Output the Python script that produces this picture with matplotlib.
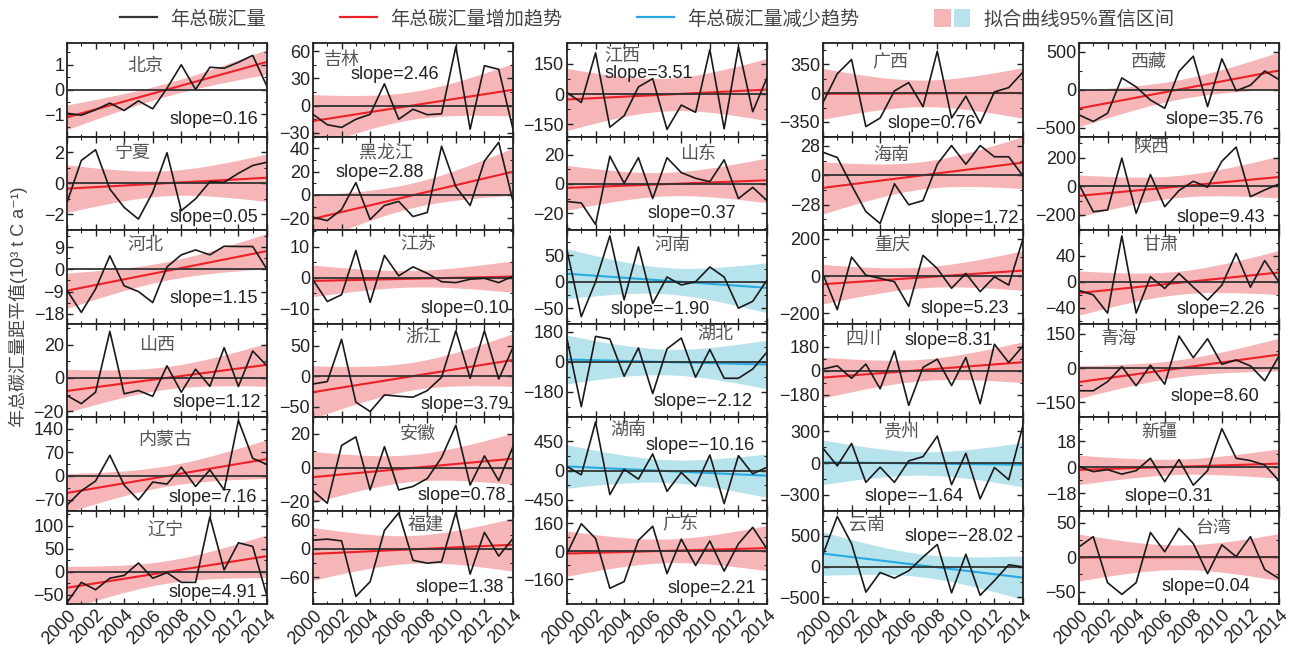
import numpy as np
import matplotlib
matplotlib.use('Agg')
import matplotlib.pyplot as plt
from matplotlib.lines import Line2D
from matplotlib.patches import Patch
from matplotlib.legend_handler import HandlerTuple
from matplotlib.ticker import MultipleLocator, AutoMinorLocator

plt.rcParams['font.family'] = ['Liberation Sans', 'Noto Sans CJK SC', 'DejaVu Sans']

years = np.arange(2000, 2015)

# anomaly of annual carbon sink, 10^3 t C a-1
beijing = [-0.96, -1.04, -0.82, -0.55, -0.85, -0.46, -0.78, 0.05, 1.0, 0.0, 0.9, 0.86, 1.1, 1.38, 0.12]
jilin = [-9.6, -21, -24, -15, -9.6, 24, -15, -4, -10, -9, 65, -26, 44, 40, -26]
jiangxi = [8, -41, 205, -164, -107, 36, 77, -175, -54, -90, 221, -172, 234, -87, 82]
guangxi = [-113, 237, 410, -406, -302, 28, 129, -165, 511, -302, -36, -366, 16, 68, 257]
xizang = [-330, -417, -309, 157, 39, -135, -243, 243, 443, -222, 409, -13, 61, 248, 135]
ningxia = [-1.23, 1.46, 2.15, -0.37, -1.55, -2.3, -0.58, 1.96, -1.76, -1.0, 0.1, 0.06, 0.64, 1.14, 1.35]
heilongjiang = [-19, -22, -12.5, 10.5, -21, -9, -5.5, -18.5, -15, 41.7, 7, -9, 29, 45, -5.5]
shandong = [-12, -13, -27.7, 19, 0.5, 18, -10, 18, 7.8, 3.9, 1.6, 16.5, -10, -2.3, -11.4]
hainan = [22, 17, -9.4, -34.5, -45.8, -8, -28, -24, 10.6, 28.4, 10.6, 28.4, 17.7, 17.7, -0.6]
shaanxi = [12, -178, -166, 197, -189, 82, -143, -30, 35, -7, 175, 274, -73, -26, 16]
hebei = [-8.5, -17.5, -8, 5.5, -6.7, -9, -13.5, 1, 5.9, 7.9, 5.9, 9.4, 9.3, 9.3, 0]
jiangsu = [-0.7, -7.7, -5.5, 8.8, -8, 7.2, 0.6, 3.5, 1.4, -1.3, -1.6, -0.5, -0.2, -1.6, 0.5]
henan = [60, -66, 0, 87, -34, 66, -41, 9, -6, 0, 28, 9, -50, -37, 3]
chongqing = [10, -180, 102, 5, -12, -30, -162, 111, 40, -65, 14, -83, -4, -48, 199]
gansu = [-13, -20, -48, 71, -48, 8, -10, 13, -8, -28, -5, 44, -8, 33, 0]
shanxi = [-10.5, -15.4, -8.5, 28, -9.5, -7.5, -11, 7.3, -8.5, 5.3, -5, 18.2, -5.1, 16.2, 7.3]
zhejiang = [-12.6, -8.7, 61, -42.6, -58, -30.6, -32.8, -34.4, -23.5, -1.6, 75, -3.3, 75, -4.4, 47.5]
hubei = [137, -268, 153, 137, -86, 84, -190, 78, 143, -92, 74, -98, -98, -43, 59]
sichuan = [12, 37, -57, 50, -137, 150, -262, 25, 87, -112, 100, -250, 200, 62, 187]
qinghai = [-99, -99, -59, 7, -77, 13, -70, 141, 46, 129, 17, 36, 10, -55, 54]
neimenggu = [-86, -44, -15, 61, -27, -71, -18, -24, 26, -31, 18, -41, 164, 52, 34]
anhui = [-13.7, -21.2, 13.1, 18.2, -13.3, 12.4, -13.3, -11.2, -6.5, 5.9, 25.1, -10.4, 6.9, -7.8, 12.4]
hunan = [61, -66, 746, -370, 20, -132, 254, -320, -30, -244, 239, -508, 228, -51, 51]
guizhou = [141, -25, 187, -181, -37, -181, 22, 62, 256, -203, 94, -337, -40, -156, 359]
xinjiang = [0.5, -3, -1.6, -4.7, -2.3, 6.3, -10, 5.4, -12.4, -2.3, 26.9, 6.3, 4.7, 1.6, -9.3]
liaoning = [-67, -23, -39, -14, -8, 19, -14, -2, -23, -23, 119, 4, 63, 55, -53]
fujian = [18.5, 20.7, 17, -100, -69, 39, 76, -24, -30, -27, 78, -53, 35, -15, 22]
guangdong = [-12, 158, 74, -210, -172, 64, 144, -126, 70, -80, 60, -112, 44, 138, 14]
yunnan = [200, 817, 371, -417, -97, -189, -69, 154, 360, -429, 200, -469, -229, 29, -6]
taiwan = [15, 30, -37, -54, -37, 36, 8, 42, 20, -24, 18, 1, 30, -18, -31]

names = [['北京', '吉林', '江西', '广西', '西藏'],
         ['宁夏', '黑龙江', '山东', '海南', '陕西'],
         ['河北', '江苏', '河南', '重庆', '甘肃'],
         ['山西', '浙江', '湖北', '四川', '青海'],
         ['内蒙古', '安徽', '湖南', '贵州', '新疆'],
         ['辽宁', '福建', '广东', '云南', '台湾']]
series = [[beijing, jilin, jiangxi, guangxi, xizang],
          [ningxia, heilongjiang, shandong, hainan, shaanxi],
          [hebei, jiangsu, henan, chongqing, gansu],
          [shanxi, zhejiang, hubei, sichuan, qinghai],
          [neimenggu, anhui, hunan, guizhou, xinjiang],
          [liaoning, fujian, guangdong, yunnan, taiwan]]
slopes = [[0.16, 2.46, 3.51, 0.76, 35.76],
          [0.05, 2.88, 0.37, 1.72, 9.43],
          [1.15, 0.10, -1.90, 5.23, 2.26],
          [1.12, 3.79, -2.12, 8.31, 8.60],
          [7.16, 0.78, -10.16, -1.64, 0.31],
          [4.91, 1.38, 2.21, -28.02, 0.04]]
yticks = [[[-1, 0, 1], [-30, 0, 30, 60], [-150, 0, 150], [-350, 0, 350], [-500, 0, 500]],
          [[-2, 0, 2], [-20, 0, 20, 40], [-20, 0, 20], [-28, 0, 28], [-200, 0, 200]],
          [[-18, -9, 0, 9], [-10, 0, 10], [-50, 0, 50], [-200, 0, 200], [-40, 0, 40]],
          [[-20, 0, 20], [-50, 0, 50], [-180, 0, 180], [-180, 0, 180], [-150, 0, 150]],
          [[-70, 0, 70, 140], [-20, 0, 20], [-450, 0, 450], [-300, 0, 300], [-18, 0, 18]],
          [[-50, 0, 50, 100], [-60, 0, 60], [-160, 0, 160], [-500, 0, 500], [-50, 0, 50]]]

# layout / style settings
ylims = [[(-1.9, 1.88), (-34, 69), (-210, 254), (-527, 611), (-615, 617)],
         [(-3, 3), (-30, 50), (-31.5, 32.5), (-52, 37), (-306, 348)],
         [(-22, 16), (-14.8, 15.4), (-79, 98), (-254, 247), (-64, 80)],
         [(-23.4, 32.7), (-67, 87), (-330, 230), (-350, 357), (-214, 196)],
         [(-102, 174), (-25.5, 30), (-614, 822), (-447, 437), (-30, 35)],
         [(-70, 133), (-116, 81), (-300, 234), (-611, 914), (-68, 68)]]
name_xy = [[(2005.5, 0.93), (2002.0, 50), (2003.9, 184), (2004.7, 370), (2004.9, 365)],
           [(2004.6, 1.9), (2005.1, 36), (2009.2, 20), (2004.8, 18.7), (2005.1, 262)],
           [(2005.5, 9.5), (2007.4, 10.4), (2007.4, 69), (2004.8, 164), (2005.7, 56)],
           [(2006.3, 19.6), (2007.7, 64), (2010.4, 163), (2002.8, 237), (2002.8, 126)],
           [(2006.9, 104), (2007.3, 20), (2004.3, 619), (2005.5, 297), (2005.6, 24.5)],
           [(2006.9, 87), (2007.9, 50), (2007.9, 154), (2003.1, 686), (2009.4, 42)]]
slope_xy = [[(2010.25, -1.23), (2005.7, 34.8), (2005.7, 102), (2007.6, -374), (2009.5, -396)],
            [(2010.25, -2.2), (2004.7, 19.4), (2008.7, -20.5), (2010.6, -41), (2009.9, -217)],
            [(2010.3, -12), (2010.6, -9.8), (2006.5, -53), (2009.9, -176), (2009.9, -42)],
            [(2010.5, -14.5), (2010.6, -47), (2009.5, -239), (2008.8, 232), (2009.5, -123)],
            [(2010.2, -65), (2010.4, -16.7), (2009.3, 391), (2006.4, -319), (2006.3, -20)],
            [(2010.2, -44), (2010.3, -81), (2010.1, -212), (2009.5, 486), (2008.9, -43)]]

W, H = 1295, 649
lefts = [67, 313, 567, 823, 1079]
ax_w = 200
top = 43
ax_h = 93.5

red = '#ec2027'
blue = '#27aae1'
pink = '#f6b5b7'
lblue = '#b7e3ec'
n = len(years)
xbar = years.mean()
sxx = ((years - xbar) ** 2).sum()

fig = plt.figure(figsize=(W / 100, H / 100), dpi=100)

for r in range(6):
    for c in range(5):
        y = np.array(series[r][c], dtype=float)
        k = slopes[r][c]
        ax = fig.add_axes([lefts[c] / W, 1 - (top + (r + 1) * ax_h) / H, ax_w / W, ax_h / H])
        xx = np.linspace(2000, 2014, 200)
        ybar = y.mean()
        resid = y - (k * (years - xbar) + ybar)
        s = np.sqrt((resid ** 2).sum() / (n - 2))
        trend = k * (xx - xbar) + ybar
        ci = 2.16 * s * np.sqrt(1 / n + (xx - xbar) ** 2 / sxx)
        lc, bc = (red, pink) if k > 0 else (blue, lblue)
        ax.fill_between(xx, trend - ci, trend + ci, color=bc, lw=0, zorder=1)
        ax.plot(xx, trend, color=lc, lw=1.5, zorder=2)
        ax.axhline(0, color='#333333', lw=1.3, zorder=3)
        ax.plot(years, y, color='#1a1a1a', lw=1.2, zorder=4)

        ax.set_xlim(2000, 2014)
        ax.set_ylim(*ylims[r][c])
        ax.set_yticks(yticks[r][c])
        ax.xaxis.set_major_locator(MultipleLocator(2))
        ax.xaxis.set_minor_locator(MultipleLocator(1))
        ax.yaxis.set_minor_locator(AutoMinorLocator(2))
        ax.tick_params(which='both', direction='in', top=True, right=True,
                       labelsize=13, colors='#222222', pad=2)
        ax.tick_params(which='major', length=4, width=1)
        ax.tick_params(which='minor', length=2.5, width=0.8)
        for sp in ax.spines.values():
            sp.set_linewidth(1.3)
            sp.set_color('#222222')
        if r == 5:
            for lab in ax.get_xticklabels():
                lab.set_rotation(45)
                lab.set_ha('right')
                lab.set_va('top')
                lab.set_rotation_mode('anchor')
                lab.set_fontsize(13)
        else:
            ax.set_xticklabels([])

        nx, ny = name_xy[r][c]
        ax.text(nx, ny, names[r][c], ha='center', va='center', fontsize=13,
                color='#555555', zorder=5)
        sx, sy = slope_xy[r][c]
        ax.text(sx, sy, f'slope={k:.2f}'.replace('-', '\u2212'), ha='center', va='center',
                fontsize=13, color='#222222', zorder=5)

fig.text(18 / W, 1 - 307 / H, '年总碳汇量距平值(10³ t C a⁻¹)', rotation=90, ha='center', va='center',
         fontsize=13, color='#444444')

handles = [Line2D([], [], color='#333333', lw=1.6),
           Line2D([], [], color=red, lw=1.6),
           Line2D([], [], color=blue, lw=1.6),
           (Patch(fc=pink, ec='none'), Patch(fc=lblue, ec='none'))]
labels = ['年总碳汇量', '年总碳汇量增加趋势', '年总碳汇量减少趋势', '拟合曲线95%置信区间']
fig.legend(handles, labels, loc='center', bbox_to_anchor=(0.5, 1 - 19 / H), ncol=4,
           frameon=False, fontsize=13.8, labelcolor='#444444', handlelength=1.9,
           handleheight=1.0, handletextpad=0.7, columnspacing=3.9,
           handler_map={tuple: HandlerTuple(ndivide=None, pad=0.15)})

fig.savefig('out.png', dpi=100)
